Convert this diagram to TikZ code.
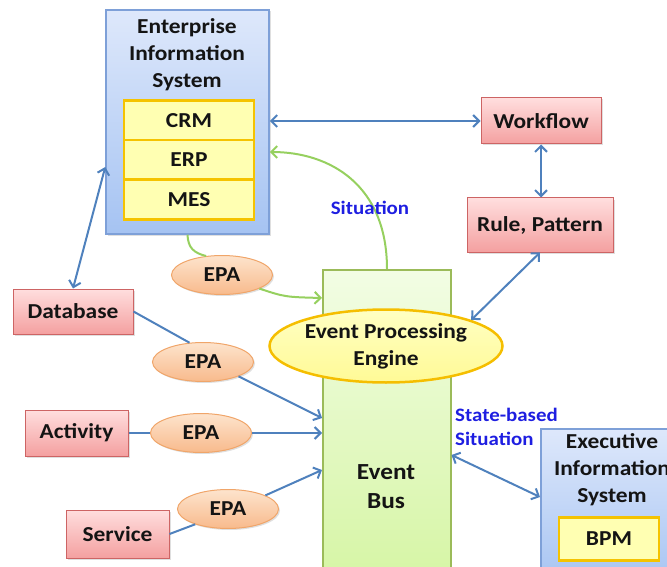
\documentclass[tikz,border=0pt]{standalone}
\usepackage{fontspec}
\setmainfont{Carlito}[FakeStretch=1.1]
\usetikzlibrary{arrows.meta,shapes.geometric,shadows}
\definecolor{bline}{RGB}{79,129,189}
\definecolor{gline}{RGB}{150,208,95}
\definecolor{lblue}{RGB}{30,30,225}
\definecolor{txt}{RGB}{20,20,20}
\begin{document}
\begin{tikzpicture}[x=1pt,y=-1pt,
  every node/.style={font=\fontsize{21.3}{27}\selectfont\bfseries, align=center, inner sep=0pt, text=txt},
  shd/.style={drop shadow={opacity=0.25, shadow xshift=1.5pt, shadow yshift=-1.5pt}},
  pinkbox/.style={rectangle, shd, draw={rgb,255:red,205;green,100;blue,100}, line width=1pt,
     top color={rgb,255:red,255;green,222;blue,222}, bottom color={rgb,255:red,244;green,160;blue,160}},
  eisbox/.style={rectangle, shd, draw={rgb,255:red,126;green,160;blue,216}, line width=1.5pt,
     top color={rgb,255:red,222;green,232;blue,251}, bottom color={rgb,255:red,165;green,195;blue,242}},
  busbox/.style={rectangle, shd, draw={rgb,255:red,155;green,187;blue,89}, line width=1.5pt,
     top color={rgb,255:red,242;green,253;blue,228}, bottom color={rgb,255:red,213;green,245;blue,163}},
  ybox/.style={rectangle, draw={rgb,255:red,245;green,195;blue,0}, line width=2.5pt,
     fill={rgb,255:red,255;green,255;blue,178}},
  epabox/.style={ellipse, shd, draw={rgb,255:red,240;green,165;blue,105}, line width=1pt,
     top color={rgb,255:red,253;green,228;blue,205}, bottom color={rgb,255:red,248;green,186;blue,140},
     minimum width=101pt, minimum height=39pt},
  epebox/.style={ellipse, draw={rgb,255:red,245;green,190;blue,0}, line width=2.5pt,
     top color={rgb,255:red,255;green,255;blue,195}, bottom color={rgb,255:red,255;green,250;blue,150}},
  bl/.style={draw=bline, line width=2pt, arrows={-Straight Barb[length=6pt,width=12pt]}},
  bl2/.style={draw=bline, line width=2pt, arrows={Straight Barb[length=6pt,width=12pt]-Straight Barb[length=6pt,width=12pt]}},
  blp/.style={draw=bline, line width=2pt},
  gr/.style={draw=gline, line width=2pt, arrows={-Straight Barb[length=6pt,width=12pt]}},
  grp/.style={draw=gline, line width=2pt},
  lab/.style={font=\fontsize{19}{24}\selectfont\bfseries, text=lblue}
]
\useasboundingbox (0,0) rectangle (667,567);
\clip (0,0) rectangle (667,567);

% Enterprise Information System
\node[eisbox, minimum width=163pt, minimum height=224pt] (eis) at (187.5,122) {};
\node (eist) at (187,55) {Enterprise\\Information\\System};
\node[ybox, minimum width=130pt, minimum height=39.5pt] (crm) at (189,120.5) {CRM};
\node[ybox, minimum width=130pt, minimum height=39.5pt] (erp) at (189,160) {ERP};
\node[ybox, minimum width=130pt, minimum height=39.5pt] (mes) at (189,199.5) {MES};

% right boxes
\node[pinkbox, minimum width=120pt, minimum height=46pt] (wf) at (541,121) {Workflow};
\node[pinkbox, minimum width=146pt, minimum height=54pt] (rule) at (540,225) {Rule, Pattern};

% left boxes
\node[pinkbox, minimum width=120pt, minimum height=45pt] (db) at (73,311.5) {Database};
\node[pinkbox, minimum width=103pt, minimum height=46pt] (act) at (76.5,433) {Activity};
\node[pinkbox, minimum width=103pt, minimum height=48pt] (svc) at (117.5,534) {Service};

% Event bus
\node[busbox, minimum width=128pt, minimum height=320pt, anchor=north west] (bus) at (322,269) {};
\node[font=\fontsize{23}{29}\selectfont\bfseries] (bust) at (386,487) {Event\\Bus};

% Executive Information System
\node[eisbox, minimum width=170pt, minimum height=160pt, anchor=north west] (eis2) at (540,428) {};
\node (eis2t) at (612,470) {Executive\\Information\\System};
\node[ybox, minimum width=100pt, minimum height=43pt] (bpm) at (609,539) {BPM};

% EPAs
\node[epabox] (epa1) at (222,275) {EPA};
\node[epabox] (epa2) at (203,362) {EPA};
\node[epabox] (epa3) at (201,433) {EPA};
\node[epabox] (epa4) at (228,509) {EPA};

% green connectors
\draw[grp] (eis.south) .. controls (188,248) and (194,253) .. (epa1.130);
\draw[gr] (epa1.-20) .. controls (285,297) .. ([yshift=-29pt]bus.north west);
\draw[gr] ([xshift=65pt]bus.north west) .. controls (387,185) and (330,152) .. ([yshift=-30pt]eis.east);

% Event Processing Engine
\node[epebox, minimum width=233pt, minimum height=73pt] (epe) at (386,346) {Event Processing\\Engine};

% blue connectors
\draw[bl2] (eis.east |- wf.west) -- (wf.west);
\draw[bl2] (wf.south) -- (wf.south |- rule.north);
\draw[bl2] (rule.south) -- (epe.17);
\draw[bl2] (db.north) -- ([yshift=-45pt]eis.west);
\draw[blp] (db.east) -- (epa2.125);
\draw[bl] (epa2.-22) -- ([yshift=-149pt]bus.north west);
\draw[blp] (act.east) -- (epa3.west);
\draw[bl] (epa3.east) -- (bus.west |- epa3.east);
\draw[blp] (svc.east) -- (epa4.205);
\draw[bl] (epa4.20) -- ([yshift=-201pt]bus.north west);
\draw[bl2] ([yshift=-186pt]bus.north east) -- ([yshift=-69pt]eis2.north west);

% labels
\node[lab] (sit) at (370,208) {Situation};
\node[lab, align=left, anchor=west] (sbs) at (455,427) {State-based\\Situation};
\end{tikzpicture}
\end{document}
